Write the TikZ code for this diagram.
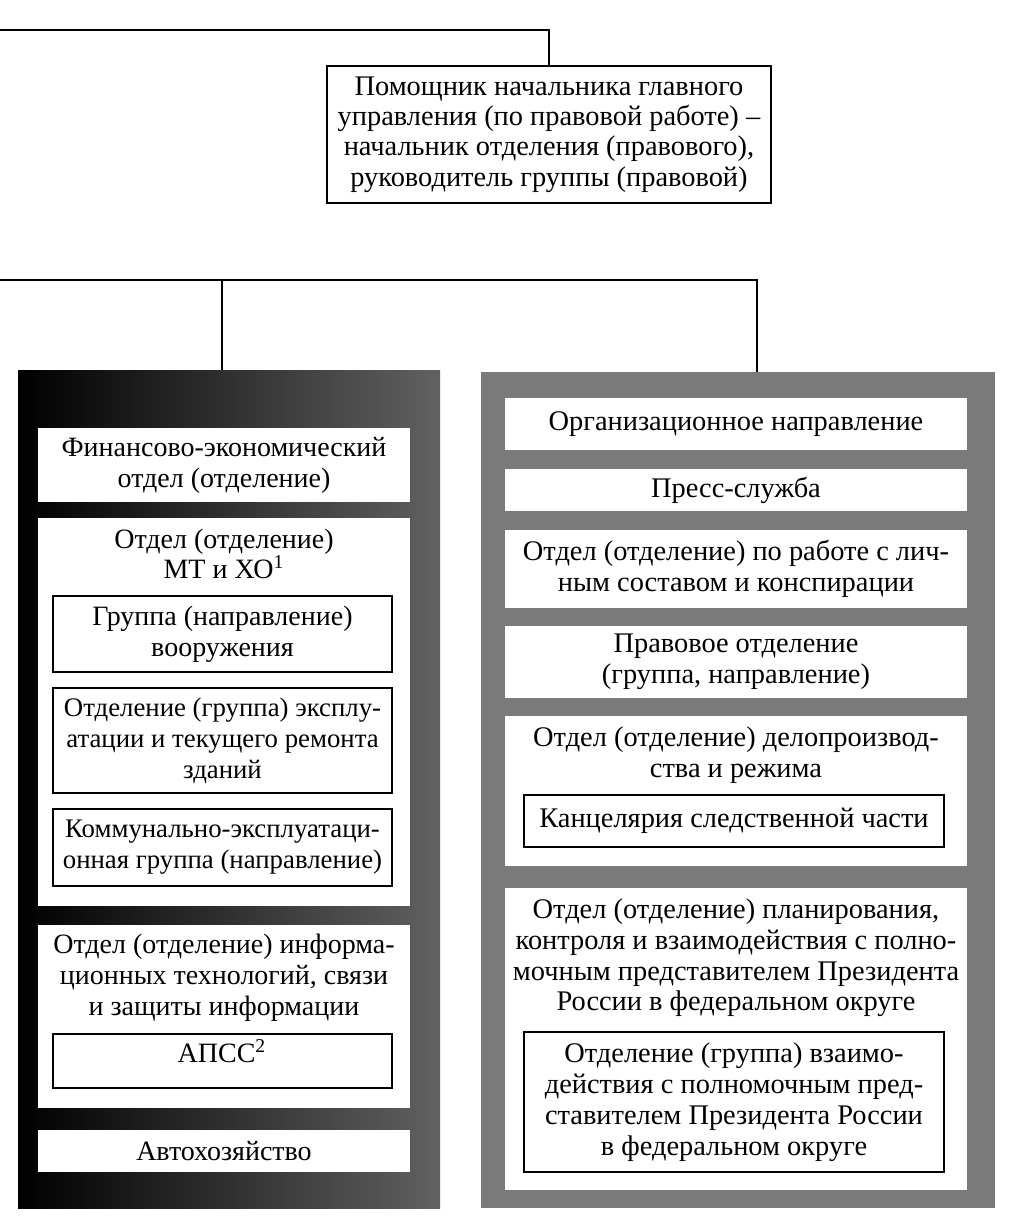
\documentclass[tikz,border=0pt]{standalone}
\usepackage{fontspec}
\setmainfont{Liberation Serif}
\newcommand\boxfont{\fontsize{14.0}{15.4}\selectfont}
\newcommand\rfont{\fontsize{14.2}{15.4}\selectfont}
\newcommand\smfont{\fontsize{13.4}{15.4}\selectfont}
\newcommand\topfont{\fontsize{14.2}{15.2}\selectfont}
\newcommand\bx[7]{\node[#6, minimum width={(#4-#2)*0.5pt}, minimum height={(#5-#3)*0.5pt}] (#1) at ({(#2+#4)/2},{(#3+#5)/2}) {#7};}
\tikzset{
  wbox/.style={fill=white, draw=none, inner sep=0pt, align=center, font=\boxfont},
  ibox/.style={fill=white, draw=black, line width=1pt, inner sep=0pt, align=center, font=\boxfont},
  tbox/.style={fill=white, draw=black, line width=1pt, inner sep=0pt, align=center, font=\topfont},
  lbl/.style={inner sep=0pt, align=center, font=\boxfont},
  lpanel/.style={draw=none, inner sep=0pt, left color=black, middle color=black!88, right color=black!62},
  rpanel/.style={draw=none, inner sep=0pt, fill=black!52},
  hline/.style={line width=1.2pt},
  vline/.style={line width=0.8pt}
}
\begin{document}
\begin{tikzpicture}[x=0.5pt,y=-0.5pt]
\useasboundingbox (0,0) rectangle (1009,1225);
% top box
\bx{top}{327}{66}{771}{203}{tbox}{Помощник начальника главного\\управления (по правовой работе) –\\начальник отделения (правового),\\руководитель группы (правовой)}
\coordinate (tl) at (0,30);
\draw[hline] (tl) -| (top.north);
% panels
\bx{lp}{18}{370}{440}{1208}{lpanel}{}
\bx{rp}{481}{372}{995}{1208}{rpanel}{}
\coordinate (bl) at (0,280);
\coordinate (j1) at (222,280);
\coordinate (lpt) at (222,370);
\coordinate (rpt) at (757,372);
\draw[hline] (bl) -- (j1);
\draw[hline] (j1) -| (rpt);
\draw[vline] (j1) -- (lpt);
% left panel
\bx{fin}{38}{428}{410}{502}{wbox}{Финансово-экономический\\отдел (отделение)}
\bx{mt}{38}{518}{410}{906}{wbox}{}
\node[lbl] (mtt) at (224,554) {Отдел (отделение)\\МТ и ХО\textsuperscript{1}};
\bx{vo}{53}{596}{392}{672}{ibox}{Группа (направление)\\вооружения}
\bx{ex}{53}{688}{392}{793}{ibox, font=\smfont}{Отделение (группа) эксплу-\\атации и текущего ремонта\\зданий}
\bx{ke}{53}{809}{392}{886}{ibox, font=\smfont}{Коммунально-эксплуатаци-\\онная группа (направление)}
\bx{it}{38}{925}{410}{1108}{wbox}{}
\node[lbl] (itt) at (224,978) {Отдел (отделение) информа-\\ционных технологий, связи\\и защиты информации};
\bx{ap}{53}{1034}{392}{1088}{ibox}{}
\node[lbl] (apt) at (222,1051) {АПСС\textsuperscript{2}};
\bx{avt}{38}{1130}{410}{1172}{wbox}{Автохозяйство}
% right panel
\bx{org}{505}{398}{967}{450}{wbox, font=\rfont}{Организационное направление}
\bx{pr}{505}{469}{967}{511}{wbox, font=\rfont}{Пресс-служба}
\bx{ls}{505}{530}{967}{608}{wbox, font=\rfont}{Отдел (отделение) по работе с лич-\\ным составом и конспирации}
\bx{pv}{505}{626}{967}{698}{wbox, font=\rfont}{Правовое отделение\\(группа, направление)}
\bx{dp}{505}{716}{967}{866}{wbox}{}
\node[lbl, font=\rfont] (dpt) at (736,755) {Отдел (отделение) делопроизвод-\\ства и режима};
\bx{kc}{524}{795}{944}{847}{ibox, font=\rfont}{Канцелярия следственной части}
\bx{pl}{505}{888}{967}{1190}{wbox}{}
\node[lbl, font=\rfont] (plt) at (736,958) {Отдел (отделение) планирования,\\контроля и взаимодействия с полно-\\мочным представителем Президента\\России в федеральном округе};
\bx{vz}{524}{1032}{944}{1172}{ibox, font=\rfont}{Отделение (группа) взаимо-\\действия с полномочным пред-\\ставителем Президента России\\в федеральном округе}
\end{tikzpicture}
\end{document}
